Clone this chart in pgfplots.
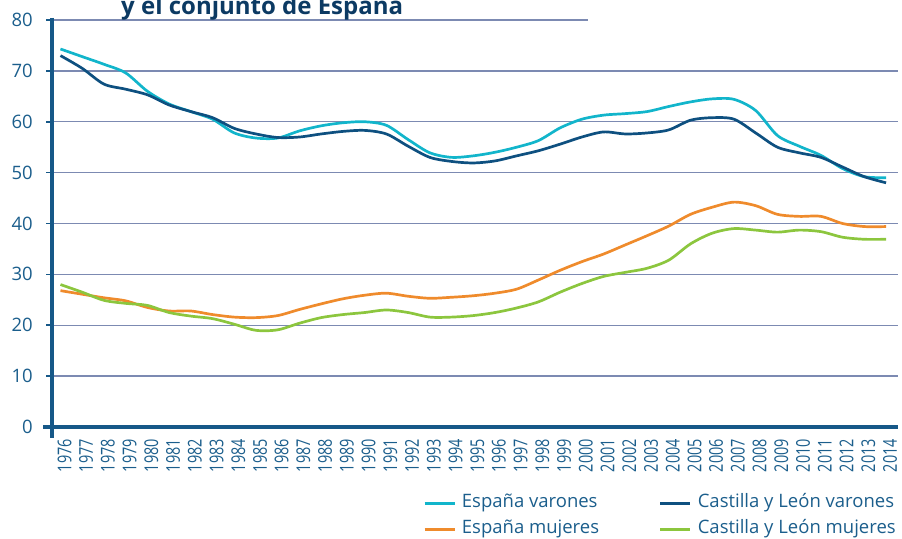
\documentclass[border=0pt]{standalone}
\usepackage{pgfplots}
\pgfplotsset{compat=1.18}
\usepackage{fontspec}
\setmainfont{Open Sans}
\newfontfamily\yearfont[FakeStretch=0.76]{Open Sans}
\definecolor{cEV}{RGB}{18,181,203}
\definecolor{cCV}{RGB}{14,80,128}
\definecolor{cEM}{RGB}{239,139,44}
\definecolor{cCM}{RGB}{140,198,62}
\definecolor{axc}{RGB}{22,88,136}
\definecolor{txt}{RGB}{27,94,140}
\definecolor{ttl}{RGB}{12,58,99}
\definecolor{gridc}{RGB}{124,138,178}
\pgfplotstableread{
year EV CV EM CM
1976 74.3 73.0 26.8 28.0
1977 72.8 70.5 26.1 26.5
1978 71.3 67.4 25.4 24.9
1979 69.6 66.4 24.8 24.3
1980 66.0 65.3 23.5 23.9
1981 63.5 63.3 22.8 22.5
1982 62.0 62.0 22.8 21.8
1983 60.5 60.8 22.1 21.3
1984 57.8 58.7 21.6 20.2
1985 56.8 57.6 21.5 19.0
1986 56.8 56.9 21.9 19.1
1987 58.2 57.0 23.1 20.4
1988 59.2 57.6 24.2 21.5
1989 59.8 58.1 25.2 22.1
1990 60.0 58.3 25.9 22.5
1991 59.3 57.6 26.3 23.0
1992 56.5 55.2 25.7 22.5
1993 53.9 53.0 25.3 21.6
1994 53.0 52.2 25.5 21.6
1995 53.3 51.9 25.8 21.9
1996 54.0 52.3 26.3 22.5
1997 55.0 53.3 27.1 23.4
1998 56.3 54.3 28.9 24.6
1999 58.8 55.6 30.8 26.5
2000 60.5 57.0 32.5 28.2
2001 61.3 58.0 34.0 29.6
2002 61.6 57.6 35.8 30.4
2003 62.0 57.8 37.6 31.2
2004 63.0 58.4 39.5 32.8
2005 63.9 60.3 41.8 36.0
2006 64.5 60.8 43.2 38.1
2007 64.4 60.5 44.2 39.0
2008 62.2 57.8 43.5 38.7
2009 57.3 55.0 41.8 38.3
2010 55.2 53.9 41.4 38.7
2011 53.4 53.0 41.4 38.4
2012 50.8 51.1 40.0 37.3
2013 49.2 49.2 39.4 36.9
2014 49.0 48.0 39.4 36.9
}\datatable
\begin{document}
\begin{tikzpicture}
\useasboundingbox (0,0) rectangle (902pt,538pt);
\begin{axis}[
  at={(52pt,111pt)}, anchor=south west,
  scale only axis, width=846pt, height=407pt,
  xmin=1975.61, xmax=2014.55, ymin=0, ymax=80,
  clip=false,
  axis line style={draw=none},
  xtick={1976,...,2014},
  xticklabel style={font=\yearfont\fontsize{19}{20}\selectfont, text=txt, xshift=4pt, yshift=-6pt, rotate=90, anchor=east, inner sep=0pt},
  xticklabel={\pgfmathprintnumber[1000 sep={}]{\tick}},
  xtick style={draw=none},
  ytick={0,10,...,80},
  ytick pos=left, tick align=outside, major tick length=6pt,
  ytick style={draw=axc, line width=1.6pt},
  yticklabel style={font=\fontsize{18.5}{20}\selectfont, text=txt, anchor=east, inner sep=0pt, xshift=-13pt},
  /pgf/number format/assume math mode=true,
  every axis plot/.append style={line width=2.7pt, smooth, tension=0.5, no markers},
  legend columns=2,
  legend cell align=left,
  legend style={draw=none, fill=none, at={(368pt,-65pt)}, anchor=north west,
    font=\fontsize{18.5}{22}\selectfont, text=txt,
    nodes={inner sep=0pt, text height=13pt, text depth=5pt},
    row sep=8pt,
    /tikz/every even column/.append style={column sep=60pt},
    /tikz/every odd column/.append style={column sep=6pt}},
  legend image code/.code={\draw[#1, line width=2.7pt] (0pt,0pt) -- (30pt,0pt);},
]
\foreach \yy in {10,20,30,40,50,60,70}{
  \edef\tmp{\noexpand\draw[gridc, line width=1.3pt] (axis cs:1975.61,\yy) -- (axis cs:2014.55,\yy);}\tmp
}
\draw[gridc, line width=1.3pt] (axis cs:1975.61,80) -- (axis cs:2000.29,80);
\addplot[cEV] table[x=year,y=EV]{\datatable};
\addlegendentry{España varones}
\addplot[cCV] table[x=year,y=CV]{\datatable};
\addlegendentry{Castilla y León varones}
\addplot[cEM] table[x=year,y=EM]{\datatable};
\addlegendentry{España mujeres}
\addplot[cCM] table[x=year,y=CM]{\datatable};
\addlegendentry{Castilla y León mujeres}
\draw[axc, line width=3.3pt] (axis cs:1975.61,80.4) -- (axis cs:1975.61,-2.1);
\draw[axc, line width=3.3pt] (axis cs:1975.2,0) -- (axis cs:2014.55,0);
\end{axis}
\node[anchor=base west, inner sep=0pt, text=ttl, font=\bfseries\fontsize{24}{28}\selectfont] at (121pt,523pt) {y el conjunto de España};
\end{tikzpicture}
\end{document}
